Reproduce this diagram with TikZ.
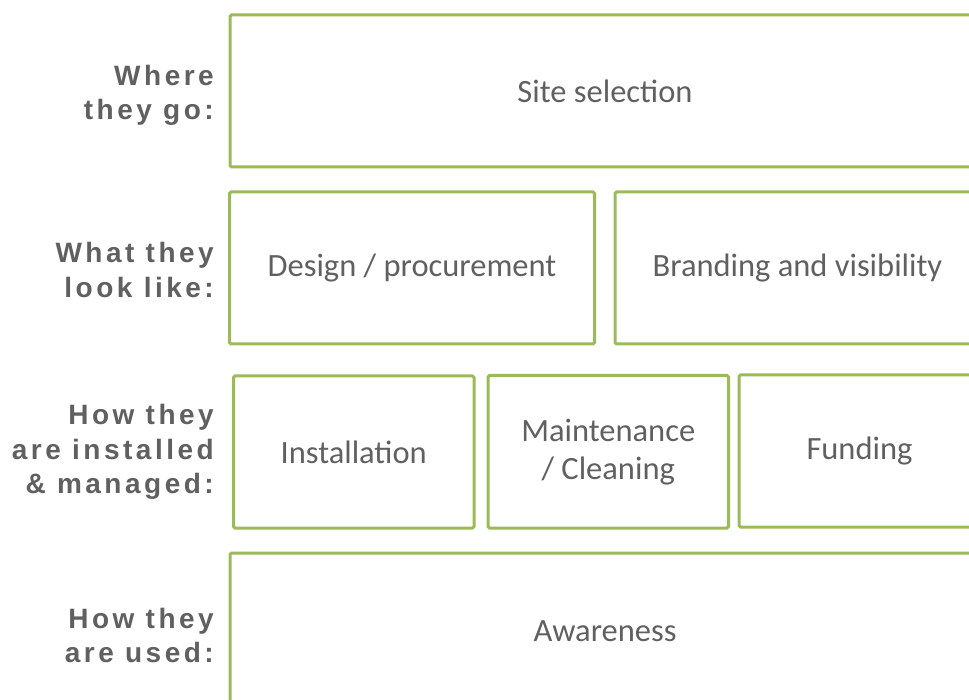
\documentclass[tikz,border=0pt]{standalone}
\usepackage{fontspec}
\setmainfont{Carlito}
\newfontfamily\labfont[LetterSpace=12.5]{Liberation Sans}
\definecolor{boxgreen}{HTML}{9BBB59}
\definecolor{txtgray}{HTML}{606060}
\begin{document}
\begin{tikzpicture}[x=1pt,y=-1pt,
  box/.style={draw=boxgreen, line width=3pt, rounded corners=1.5pt, rectangle,
    inner sep=0pt, outer sep=0pt, text=txtgray, align=center,
    font=\fontsize{32.5}{38}\selectfont},
  lab/.style={anchor=east, align=right, text=txtgray, inner sep=0pt,
    font=\labfont\bfseries\fontsize{28}{34.5}\selectfont}]
\useasboundingbox (0,0) rectangle (969,700);
\clip (0,0) rectangle (969,700);
\node[box, minimum width=750pt, minimum height=152pt] (b1) at (605,91) {Site selection};
\node[box, minimum width=365pt, minimum height=152pt] (b2) at (412,268) {Design / procurement};
\node[box, minimum width=365pt, minimum height=152pt] (b3) at (797.5,268) {Branding and visibility};
\node[box, minimum width=240.5pt, minimum height=152pt] (b4) at (353.75,452) {Installation};
\node[box, minimum width=240.5pt, minimum height=152.5pt] (b5) at (608.25,451.75) {Maintenance\\/ Cleaning};
\node[box, minimum width=241pt, minimum height=152pt] (b6) at (859.5,451) {\raisebox{-2pt}{Funding}};
\node[box, minimum width=750pt, minimum height=157pt] (b7) at (605,631.5) {Awareness};
\node[lab] (l1) at (214,95.5) {Where\\they go:};
\node[lab] (l2) at (214,270) {What they\\look like:};
\node[lab] (l3) at (214,452) {How they\\are installed\\\& managed:};
\node[lab] (l4) at (214,635.5) {How they\\are used:};
\end{tikzpicture}
\end{document}
